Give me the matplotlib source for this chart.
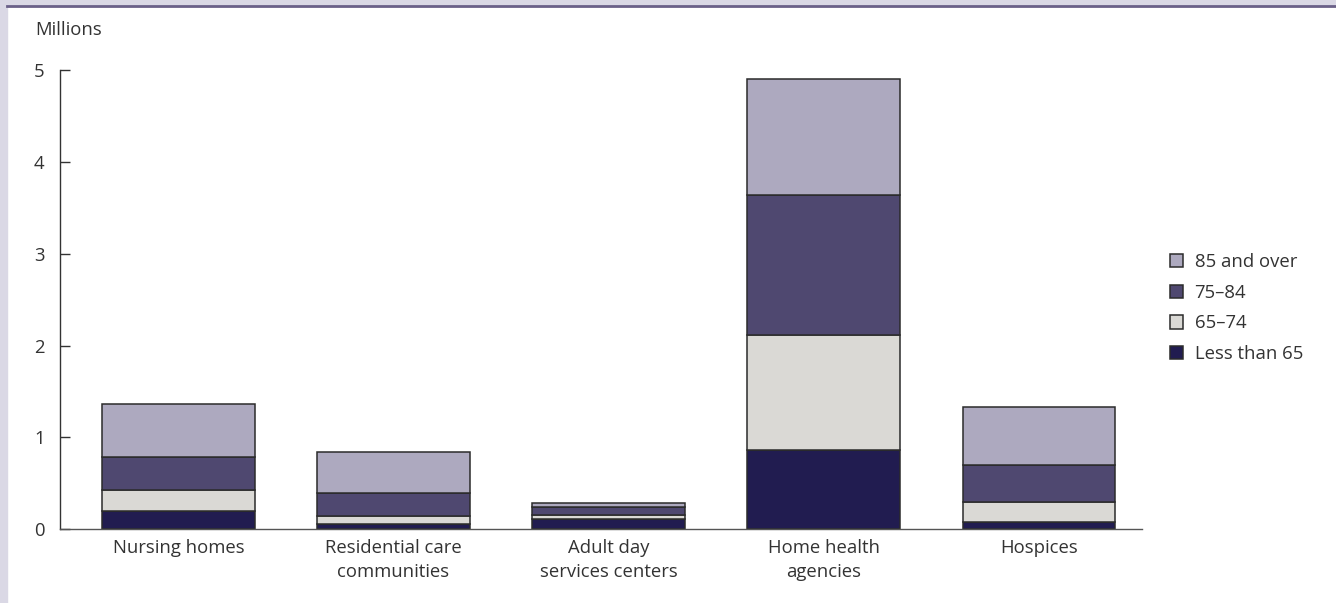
import matplotlib.pyplot as plt
import numpy as np
from matplotlib.patches import Rectangle
from matplotlib.lines import Line2D

plt.rcParams['font.family'] = ['Open Sans', 'DejaVu Sans']

categories = ["Nursing homes", "Residential care\ncommunities", "Adult day\nservices centers",
              "Home health\nagencies", "Hospices"]
series = ["Less than 65", "65\u201374", "75\u201384", "85 and over"]
less_65 = [0.20, 0.06, 0.11, 0.86, 0.08]
age_65_74 = [0.22, 0.085, 0.04, 1.26, 0.22]
age_75_84 = [0.37, 0.25, 0.09, 1.52, 0.40]
age_85 = [0.57, 0.445, 0.04, 1.27, 0.63]
colors = ["#211c50", "#dad9d5", "#4f4870", "#ada9bf"]

fig = plt.figure(figsize=(13.36, 6.03), dpi=100)
# frame: lavender strips on left and top with dark rule
fig.patches.append(Rectangle((0, 0), 7 / 1336, 1, transform=fig.transFigure, color="#dad8e5", zorder=0))
fig.patches.append(Rectangle((0, 1 - 5 / 603), 1, 5 / 603, transform=fig.transFigure, color="#dad8e5", zorder=0))
fig.lines.append(Line2D([7 / 1336, 1], [1 - 6 / 603, 1 - 6 / 603], transform=fig.transFigure,
                        color="#6a6088", lw=2))

ax = fig.add_axes([0.0449, 0.1227, 0.81, 0.7604])
x = np.arange(len(categories))
bottom = np.zeros(len(categories))
for vals, name, c in zip([less_65, age_65_74, age_75_84, age_85], series, colors):
    ax.bar(x, vals, 0.71, bottom=bottom, color=c, edgecolor="#2b2b2b", linewidth=1.1,
           label=name, zorder=2)
    bottom += np.array(vals)

ax.set_xlim(-0.55, 4.48)
ax.set_ylim(0, 5)
ax.set_yticks([0, 1, 2, 3, 4, 5])
ax.set_xticks(x)
ax.set_xticklabels(categories, fontsize=13.3, color="#333333", linespacing=1.45)
ax.tick_params(axis="x", length=0, pad=7)
ax.tick_params(axis="y", direction="in", length=7.5, width=1, color="#333333",
               labelsize=13.3, labelcolor="#333333", pad=11)
for s in ["top", "right"]:
    ax.spines[s].set_visible(False)
ax.spines["left"].set_color("#333333")
ax.spines["bottom"].set_color("#555555")
ax.spines["left"].set_linewidth(1)
ax.spines["bottom"].set_linewidth(1)

fig.text(35 / 1336, 1 - 30 / 603, "Millions", fontsize=13.3, color="#333333", va="center", ha="left")

handles, labels = ax.get_legend_handles_labels()
ax.legend(handles[::-1], labels[::-1], loc="center left", bbox_to_anchor=(1.01, 0.482),
          frameon=False, fontsize=13.3, handlelength=0.75, handleheight=0.75,
          handletextpad=0.6, labelspacing=0.68, labelcolor="#333333")

fig.savefig("out.png", dpi=100)
